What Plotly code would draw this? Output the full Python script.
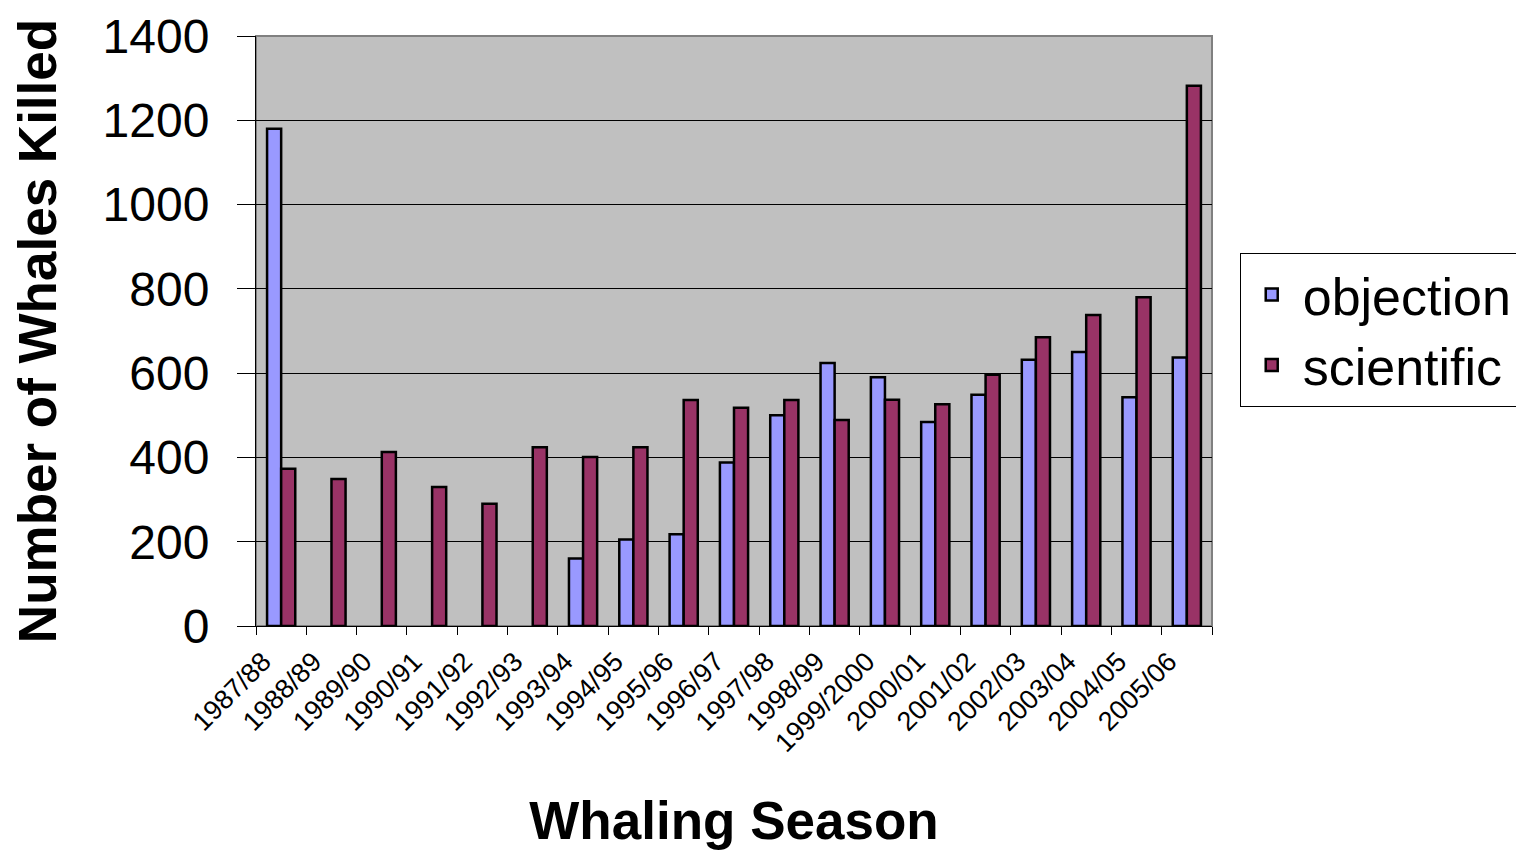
import plotly.graph_objects as go

seasons = ["1987/88", "1988/89", "1989/90", "1990/91", "1991/92", "1992/93",
           "1993/94", "1994/95", "1995/96", "1996/97", "1997/98", "1998/99",
           "1999/2000", "2000/01", "2001/02", "2002/03", "2003/04", "2004/05",
           "2005/06"]
objection = [1180, None, None, None, None, None, 160, 205, 218, 388, 500, 624,
             590, 484, 549, 632, 650, 543, 637]
scientific = [373, 349, 413, 330, 290, 424, 401, 424, 536, 518, 536, 489,
              537, 526, 596, 685, 738, 780, 1282]
y_ticks = [0, 200, 400, 600, 800, 1000, 1200, 1400]

FONT = "Liberation Sans, Arial, sans-serif"

fig = go.Figure()
fig.add_trace(go.Bar(name="objection", x=seasons, y=objection,
                     marker=dict(color="#9999FF", line=dict(color="black", width=2.5))))
fig.add_trace(go.Bar(name="scientific", x=seasons, y=scientific,
                     marker=dict(color="#993366", line=dict(color="black", width=2.5))))

fig.update_layout(
    width=1516, height=842,
    margin=dict(l=248, r=312, t=28, b=224, autoexpand=False),
    paper_bgcolor="white", plot_bgcolor="#C0C0C0",
    barmode="group", bargap=0.44, bargroupgap=0,
    font=dict(family=FONT, color="black"),
    showlegend=True,
    legend=dict(x=1.029, xanchor="left", y=0.632, yanchor="top",
                bordercolor="black", borderwidth=1, bgcolor="white",
                font=dict(size=52, family=FONT), tracegroupgap=0,
                itemwidth=52),
)
fig.update_xaxes(
    type="category", tickson="boundaries", ticks="outside", ticklen=8,
    tickcolor="black", tickwidth=1, tickangle=-45,
    tickfont=dict(size=27, family=FONT), ticklabelshift=-18,
    ticklabelstandoff=8, ticklabeloverflow="allow",
    showline=True, linecolor="black", linewidth=1, showgrid=False,
    title=dict(text="<b>Whaling Season</b>", font=dict(size=53, family=FONT), standoff=50),
    automargin=False,
)
fig.update_yaxes(
    range=[0, 1400], tickvals=y_ticks, ticktext=[str(v) for v in y_ticks],
    ticks="outside", ticklen=18, tickcolor="black", tickwidth=1,
    ticklabelstandoff=18, ticklabeloverflow="allow",
    tickfont=dict(size=48, family=FONT),
    showline=True, linecolor="black", linewidth=1,
    showgrid=True, gridcolor="black", gridwidth=1, zeroline=False,
    title=dict(text="<b>Number of Whales Killed</b>", font=dict(size=53, family=FONT), standoff=36),
    automargin=False,
)
# plot-area border (grey frame like the original)
fig.add_shape(type="rect", xref="x domain", yref="y domain", x0=0, x1=1, y0=0, y1=1,
              line=dict(color="#808080", width=2), layer="below")

fig.write_html("out.html")
